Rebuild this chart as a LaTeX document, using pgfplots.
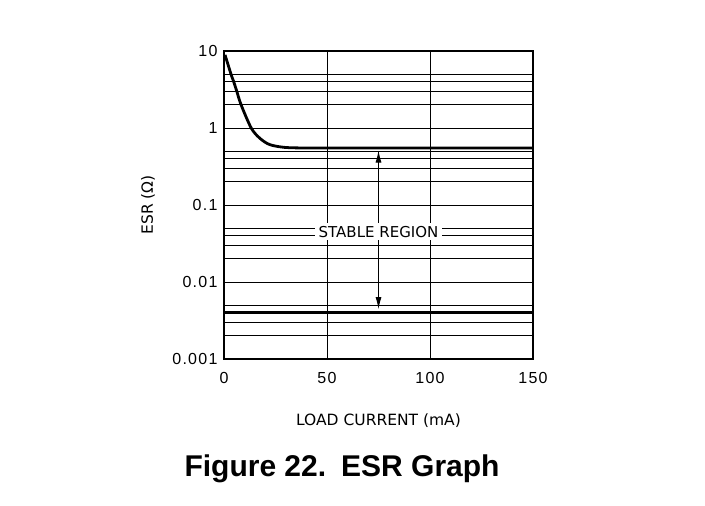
\documentclass[border=0pt]{standalone}
\usepackage{fontspec}
\usepackage{pgfplots}
\pgfplotsset{compat=1.18}
\usetikzlibrary{arrows.meta}
\newfontfamily\tickfont[LetterSpace=8]{Liberation Sans}
\newfontfamily\labfont{DejaVu Sans}
\newfontfamily\capfont{Liberation Sans}
\begin{document}
\begin{tikzpicture}[x=1bp,y=1bp]
\useasboundingbox (0,0) rectangle (705,506);
\begin{axis}[
  at={(224bp,147bp)}, anchor=south west,
  scale only axis, width=309bp, height=308bp,
  xmin=0, xmax=150, ymode=log, ymin=0.001, ymax=10,
  xtick={0,50,100,150}, xticklabels={0,50,100,150},
  ytick={0.001,0.01,0.1,1,10}, yticklabels={0.001,0.01,0.1,1,10},
  minor ytick={0.002,0.003,0.004,0.005,0.02,0.03,0.04,0.05,0.2,0.3,0.4,0.5,2,3,4,5},
  grid=both,
  major grid style={black, line width=0.9bp},
  minor grid style={black, line width=0.9bp},
  minor x tick num=0,
  major tick length=0pt, minor tick length=0pt,
  axis line style={black, line width=1.2bp},
  tick label style={font=\tickfont\fontsize{16bp}{18bp}\selectfont, black},
  xticklabel style={yshift=-10bp},
  yticklabel style={xshift=-3bp},
  xlabel={LOAD CURRENT (mA)},
  ylabel={ESR (Ω)},
  label style={font=\labfont\fontsize{15.5bp}{17bp}\selectfont},
  xlabel style={at={(axis description cs:0.5,-0.201)}, anchor=center},
  ylabel style={at={(axis description cs:-0.246,0.5)}, anchor=center, rotate=0},
  clip=false,
]
\addplot[black, line width=2.8bp, smooth, tension=0.5] coordinates {
 (0.5,8.9) (3.4,5) (4.7,4) (6.2,3) (8.3,2) (13.2,1) (17.3,0.74) (22.1,0.61) (29.4,0.56) (40,0.55) (60,0.55) (100,0.55) (150,0.55)
};
\addplot[black, line width=2.8bp] coordinates {(0,0.004) (150,0.004)};
\draw[-{Latex[length=12bp,width=6bp]}, line width=0.9bp] (axis cs:75,0.045) -- (axis cs:75,0.51);
\draw[-{Latex[length=12bp,width=6bp]}, line width=0.9bp] (axis cs:75,0.045) -- (axis cs:75,0.00445);
\node[fill=white, inner xsep=4bp, inner ysep=3bp, font=\labfont\fontsize{15bp}{17bp}\selectfont] at (axis cs:75,0.045) {STABLE REGION};
\node[font=\capfont\bfseries\fontsize{30bp}{33bp}\selectfont] at (axis description cs:0.382,-0.357) {Figure 22.\hspace{0.5em}ESR Graph};
\end{axis}
\end{tikzpicture}
\end{document}
